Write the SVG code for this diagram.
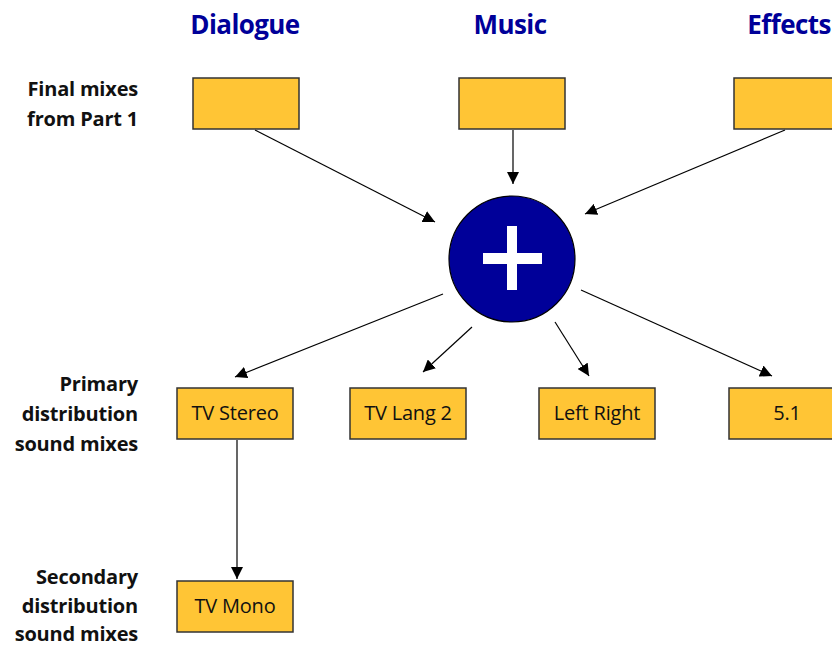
<svg xmlns="http://www.w3.org/2000/svg" width="832" height="646" viewBox="0 0 832 646">
<defs>
<style>
.box{fill:#FFC535;stroke:#333;stroke-width:1.5}
.hdr{font-family:"Open Sans","Noto Sans",sans-serif;font-weight:bold;font-size:26px;fill:#000099;text-anchor:middle;letter-spacing:-0.6px}
.lbl{font-family:"Open Sans","Noto Sans",sans-serif;font-weight:bold;font-size:20px;fill:#111;text-anchor:end;letter-spacing:-0.2px}
.bt{font-family:"Open Sans","Noto Sans",sans-serif;font-size:20px;fill:#111;text-anchor:middle;letter-spacing:-0.2px}
.ln{stroke:#000;stroke-width:1.2;fill:none;marker-end:url(#ah)}
</style>
<marker id="ah" viewBox="0 0 10 10" refX="10" refY="5" markerWidth="12" markerHeight="12" markerUnits="userSpaceOnUse" orient="auto">
<path d="M0,0 L10,5 L0,10 z" fill="#000"/>
</marker>
</defs>
<rect width="832" height="646" fill="#fff"/>
<text class="hdr" x="245" y="34">Dialogue</text>
<text class="hdr" x="510" y="34">Music</text>
<text class="hdr" x="789" y="34">Effects</text>
<g id="labels">
<text class="lbl" x="138" y="96">Final mixes</text>
<text class="lbl" x="138" y="126">from Part 1</text>
<text class="lbl" x="138" y="391">Primary</text>
<text class="lbl" x="138" y="421">distribution</text>
<text class="lbl" x="138" y="451">sound mixes</text>
<text class="lbl" x="138" y="584">Secondary</text>
<text class="lbl" x="138" y="613">distribution</text>
<text class="lbl" x="138" y="641">sound mixes</text>
</g>
<g id="connectors">
<line class="ln" x1="255" y1="130" x2="435" y2="222"/>
<line class="ln" x1="513" y1="130" x2="513" y2="184"/>
<line class="ln" x1="785" y1="130" x2="585" y2="214"/>
<line class="ln" x1="443" y1="294" x2="235" y2="377"/>
<line class="ln" x1="472" y1="327" x2="423" y2="372"/>
<line class="ln" x1="555" y1="322" x2="589" y2="376"/>
<line class="ln" x1="581" y1="290" x2="772" y2="376"/>
<line class="ln" x1="237" y1="440" x2="237" y2="579"/>
</g>
<g id="dialogue"><rect class="box" x="193" y="78" width="106" height="51"/></g>
<g id="music"><rect class="box" x="459" y="78" width="106" height="51"/></g>
<g id="effects"><rect class="box" x="734" y="78" width="106" height="51"/></g>
<g id="mixer">
<circle cx="512" cy="259" r="63" fill="#000099" stroke="#000" stroke-width="1.2"/>
<rect x="483" y="253" width="59" height="11" fill="#fff"/>
<rect x="507" y="226" width="10" height="64" fill="#fff"/>
</g>
<g id="tvstereo"><rect class="box" x="177" y="388" width="116" height="51"/><text class="bt" x="235" y="420">TV Stereo</text></g>
<g id="tvlang2"><rect class="box" x="350" y="388" width="116" height="51"/><text class="bt" x="408" y="420">TV Lang 2</text></g>
<g id="leftright"><rect class="box" x="539" y="388" width="116" height="51"/><text class="bt" x="597" y="420">Left Right</text></g>
<g id="five1"><rect class="box" x="729" y="388" width="116" height="51"/><text class="bt" x="787" y="420">5.1</text></g>
<g id="tvmono"><rect class="box" x="177" y="581" width="116" height="51"/><text class="bt" x="235" y="613">TV Mono</text></g>
</svg>
